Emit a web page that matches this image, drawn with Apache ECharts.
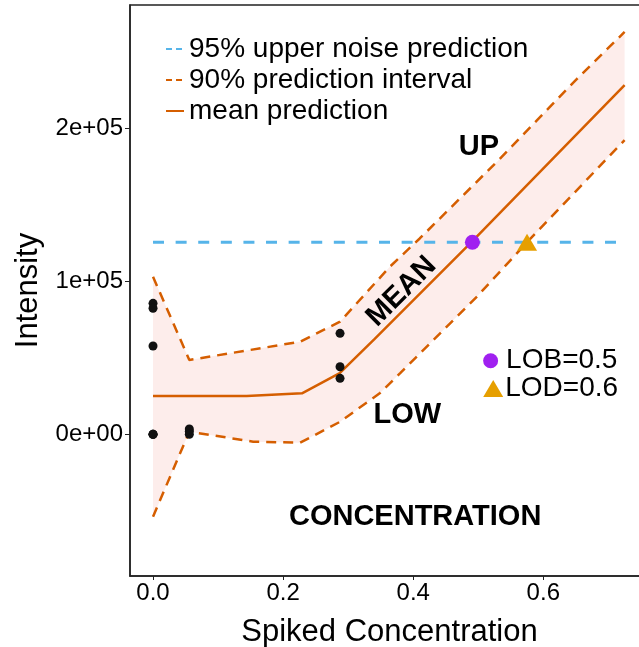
<!DOCTYPE html>
<html>
<head>
<meta charset="utf-8">
<script src="https://cdn.jsdelivr.net/npm/echarts@6/dist/echarts.min.js"></script>
<style>
  html, body { margin: 0; padding: 0; background: #fff; }
  #container { width: 639px; height: 647px; }
</style>
</head>
<body>
<div id="container"></div>
<script>
// mean prediction line
const meanX = [0, 0.144, 0.229, 0.287, 0.34, 0.491, 0.725];
const meanY = [25000, 25000, 26800, 40000, 62000, 126200, 228300];
// 90% prediction interval, upper and lower bound
const upperX = [0, 0.0558, 0.226, 0.2875, 0.364, 0.41, 0.533, 0.651, 0.725];
const upperY = [103000, 48600, 60500, 73600, 109500, 128000, 180000, 232000, 263000];
const lowerX = [0, 0.0558, 0.154, 0.226, 0.2875, 0.349, 0.38, 0.498, 0.575, 0.725];
const lowerY = [-53800, 1700, -4800, -5500, 8200, 27000, 40000, 90000, 125500, 192300];
// 95% upper noise
const noiseX = [0, 0.72];
const noiseY = [125500, 125500];
// observed intensities
const obsX = [0, 0, 0, 0, 0, 0, 0.0558, 0.0558, 0.0558, 0.2875, 0.2875, 0.2875];
const obsY = [85600, 82400, 57700, 0, 0, 0, 3500, 2000, 0, 66000, 44200, 36600];
// limits
const lob = [0.491, 125500];
const lod = [0.575, 125500];
// ticks
const xTicks = [0, 0.2, 0.4, 0.6];
const yTicks = [0, 100000, 200000];

const orange = '#D55E00';
const blue = '#56B4E9';
const fontFam = '"Liberation Sans", Arial, Helvetica, sans-serif';

function zip(xs, ys) {
    return xs.map(function(x, i) { return [x, ys[i]]; });
}

var dom = document.getElementById("container");
var myChart = echarts.init(dom);

let option = {
    animation: false,
    textStyle: {fontFamily: fontFam, color: '#000'},
    grid: {
        left: 130,
        top: 5,
        bottom: 71,
        right: -10,
        outerBoundsMode: 'none',
        containLabel: false,
        show: true,
        borderColor: '#222',
        borderWidth: 1.5
    },
    legend: {
        left: 160,
        top: 30,
        orient: 'vertical',
        itemWidth: 18,
        itemHeight: 14,
        itemGap: 3,
        itemStyle: {opacity: 0},
        textStyle: {fontSize: 28, color: '#000', fontFamily: fontFam},
        data: [
            {name: '95% upper noise prediction', lineStyle: {type: [6, 4]}},
            {name: '90% prediction interval', lineStyle: {type: [6, 4]}},
            {name: 'mean prediction'}
        ]
    },
    xAxis: {
        type: 'value',
        min: -0.0354,
        max: 0.7625,
        name: 'Spiked Concentration',
        nameLocation: 'middle',
        nameGap: 41,
        nameTextStyle: {fontSize: 31, color: '#000'},
        axisLine: {show: true, onZero: false, lineStyle: {color: '#222', width: 1.5}},
        axisTick: {show: true, length: 4, customValues: xTicks, lineStyle: {color: '#222'}},
        axisLabel: {
            customValues: xTicks,
            fontSize: 24,
            color: '#000',
            margin: 5,
            formatter: function(v) { return v.toFixed(1); }
        },
        splitLine: {show: false}
    },
    yAxis: {
        type: 'value',
        min: -92600,
        max: 280600,
        name: 'Intensity',
        nameLocation: 'middle',
        nameGap: 86,
        nameTextStyle: {fontSize: 31, color: '#000'},
        axisLine: {show: true, onZero: false, lineStyle: {color: '#222', width: 1.5}},
        axisTick: {show: true, length: 5, customValues: yTicks, lineStyle: {color: '#222'}},
        axisLabel: {
            customValues: yTicks,
            fontSize: 24,
            color: '#000',
            margin: 7,
            formatter: function(v) {
                return v === 0 ? '0e+00' : Math.round(v / 1e5) + 'e+05';
            }
        },
        splitLine: {show: false}
    },
    series: [
        {
            // shaded band between the interval bounds
            type: 'custom',
            name: 'band',
            silent: true,
            z: 1,
            data: [[0, 0]],
            renderItem: function(params, api) {
                let pts = [];
                for (let i = 0; i < upperX.length; i++) pts.push(api.coord([upperX[i], upperY[i]]));
                for (let i = lowerX.length - 1; i >= 0; i--) pts.push(api.coord([lowerX[i], lowerY[i]]));
                return {type: 'polygon', shape: {points: pts}, style: {fill: '#FDEDEB'}};
            }
        },
        {
            type: 'line',
            name: '95% upper noise prediction',
            data: zip(noiseX, noiseY),
            symbol: 'none',
            z: 3,
            lineStyle: {color: blue, width: 3, type: [11, 11.6]},
            itemStyle: {color: blue}
        },
        {
            type: 'line',
            name: '90% prediction interval',
            data: zip(upperX, upperY),
            symbol: 'none',
            z: 3,
            lineStyle: {color: orange, width: 2.5, type: [10, 7]},
            itemStyle: {color: orange}
        },
        {
            type: 'line',
            name: '90% prediction interval',
            data: zip(lowerX, lowerY),
            symbol: 'none',
            z: 3,
            lineStyle: {color: orange, width: 2.5, type: [10, 7]},
            itemStyle: {color: orange}
        },
        {
            type: 'line',
            name: 'mean prediction',
            data: zip(meanX, meanY),
            symbol: 'none',
            z: 3,
            lineStyle: {color: orange, width: 2.5},
            itemStyle: {color: orange}
        },
        {
            type: 'scatter',
            name: 'observed',
            data: zip(obsX, obsY),
            symbolSize: 9,
            z: 4,
            itemStyle: {color: '#111', opacity: 1}
        },
        {
            type: 'scatter',
            name: 'LOB',
            data: [lob],
            symbol: 'circle',
            symbolSize: 15,
            z: 5,
            itemStyle: {color: '#A020F0', opacity: 1}
        },
        {
            type: 'scatter',
            name: 'LOD',
            data: [lod],
            symbol: 'triangle',
            symbolSize: [20, 17],
            z: 5,
            itemStyle: {color: '#E69F00', opacity: 1}
        },
        {
            // LOB / LOD key
            type: 'scatter',
            name: 'key',
            silent: true,
            z: 5,
            data: [
                {value: [0.519, 48100], symbol: 'circle', symbolSize: 15,
                 itemStyle: {color: '#A020F0'}, label: {formatter: 'LOB=0.5', distance: 8}},
                {value: [0.523, 30000], symbol: 'triangle', symbolSize: [20, 17],
                 itemStyle: {color: '#E69F00'}, label: {formatter: 'LOD=0.6', distance: 2}}
            ],
            itemStyle: {opacity: 1},
            label: {show: true, position: 'right', fontSize: 28, color: '#000'}
        },
        {
            // text annotations
            type: 'scatter',
            name: 'annot',
            silent: true,
            z: 6,
            symbolSize: 1,
            itemStyle: {color: 'rgba(0,0,0,0)', opacity: 1},
            label: {show: true, position: 'inside', fontSize: 29, fontWeight: 'bold', color: '#000',
                     formatter: function(p) { return p.name; }},
            data: [
                {name: 'UP', value: [0.501, 188000]},
                {name: 'LOW', value: [0.391, 12600]},
                {name: 'CONCENTRATION', value: [0.403, -54000]},
                {name: 'MEAN', value: [0.382, 93300], label: {rotate: 45}}
            ]
        }
    ]
};

myChart.setOption(option, true);
</script>
</body>
</html>
